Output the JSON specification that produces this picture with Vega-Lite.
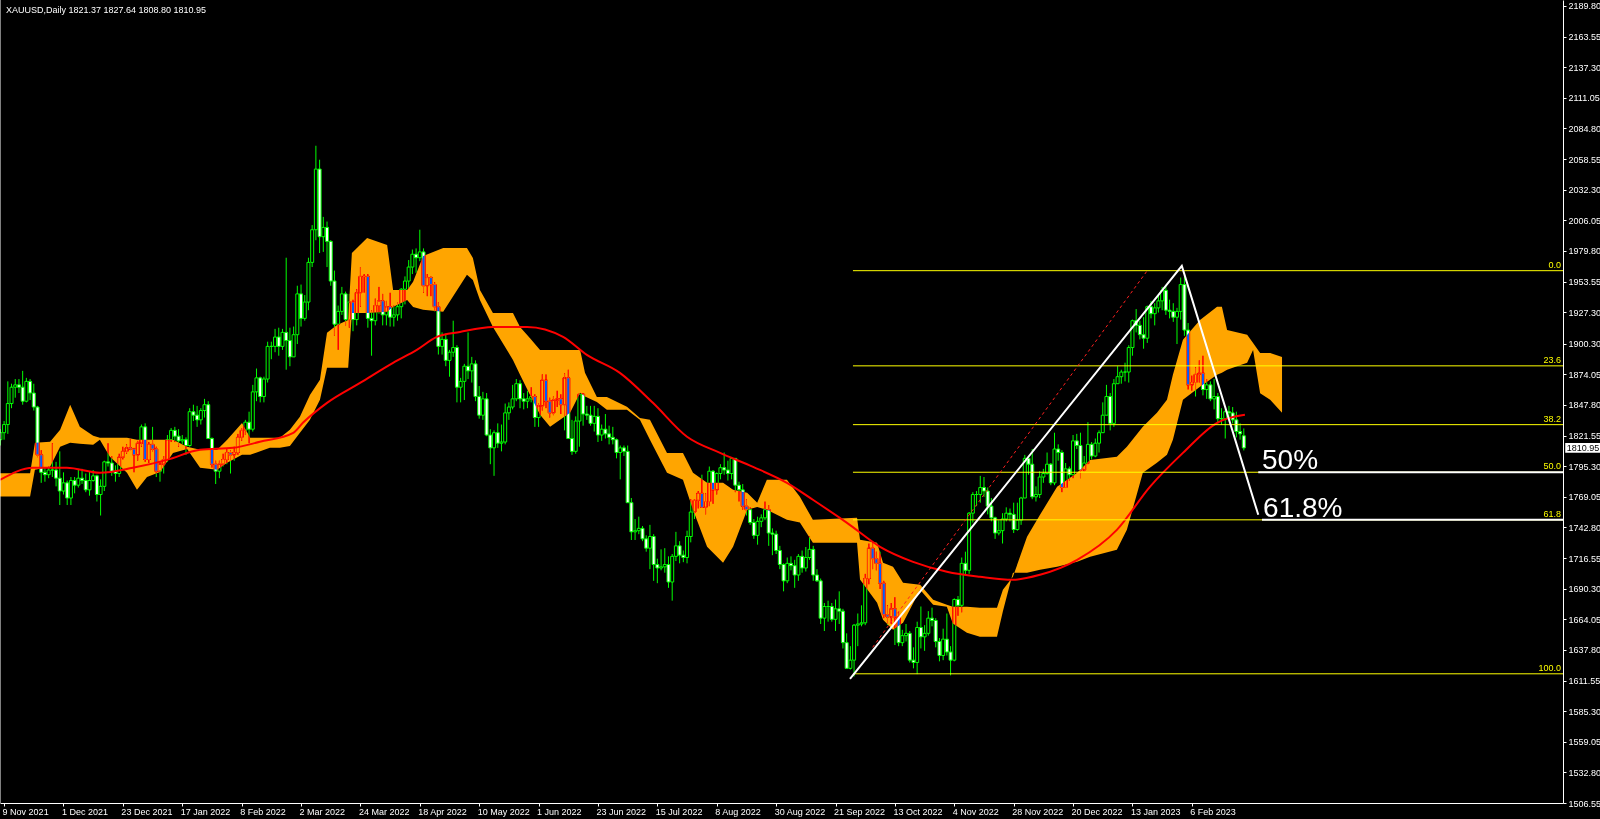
{
"$schema":"https://vega.github.io/schema/vega-lite/v6.json",
"width":1563,"height":803,
"autosize":{"type":"none"},
"padding":{"left":0,"top":0,"right":37,"bottom":16},
"background":"#000000",
"config":{"view":{"stroke":null},"font":"Liberation Sans"},
"datasets":{
"candles":[
{"i":-1,"o":1818,"h":1827,"l":1813,"c":1824},{"i":0,"o":1824,"h":1834,"l":1818,"c":1831},{"i":1,"o":1831,"h":1868,"l":1823,"c":1849},{"i":2,"o":1849,"h":1866,"l":1845,"c":1863},{"i":3,"o":1863,"h":1870,"l":1854,"c":1865},{"i":4,"o":1865,"h":1870,"l":1858,"c":1863},{"i":5,"o":1863,"h":1877,"l":1848,"c":1851},{"i":6,"o":1851,"h":1871,"l":1850,"c":1868},{"i":7,"o":1868,"h":1870,"l":1852,"c":1858},{"i":8,"o":1858,"h":1866,"l":1843,"c":1846},
{"i":9,"o":1846,"h":1847,"l":1803,"c":1805},{"i":10,"o":1805,"h":1809,"l":1781,"c":1790},{"i":11,"o":1790,"h":1794,"l":1782,"c":1788},{"i":12,"o":1788,"h":1795,"l":1785,"c":1792},{"i":13,"o":1792,"h":1815,"l":1786,"c":1792},{"i":14,"o":1792,"h":1799,"l":1778,"c":1785},{"i":15,"o":1785,"h":1808,"l":1762,"c":1774},{"i":16,"o":1774,"h":1790,"l":1771,"c":1781},{"i":17,"o":1781,"h":1783,"l":1762,"c":1768},{"i":18,"o":1768,"h":1786,"l":1762,"c":1783},
{"i":19,"o":1783,"h":1786,"l":1772,"c":1779},{"i":20,"o":1779,"h":1793,"l":1777,"c":1785},{"i":21,"o":1785,"h":1793,"l":1780,"c":1783},{"i":22,"o":1783,"h":1789,"l":1773,"c":1775},{"i":23,"o":1775,"h":1791,"l":1770,"c":1783},{"i":24,"o":1783,"h":1792,"l":1782,"c":1787},{"i":25,"o":1787,"h":1788,"l":1765,"c":1771},{"i":26,"o":1771,"h":1784,"l":1753,"c":1778},{"i":27,"o":1778,"h":1800,"l":1774,"c":1799},{"i":28,"o":1799,"h":1815,"l":1795,"c":1798},
{"i":29,"o":1798,"h":1804,"l":1787,"c":1791},{"i":30,"o":1791,"h":1796,"l":1782,"c":1789},{"i":31,"o":1789,"h":1806,"l":1786,"c":1803},{"i":32,"o":1803,"h":1812,"l":1801,"c":1808},{"i":33,"o":1808,"h":1814,"l":1806,"c":1811},{"i":34,"o":1811,"h":1819,"l":1809,"c":1810},{"i":35,"o":1810,"h":1811,"l":1790,"c":1805},{"i":36,"o":1805,"h":1817,"l":1800,"c":1815},{"i":37,"o":1815,"h":1831,"l":1812,"c":1829},{"i":38,"o":1829,"h":1832,"l":1799,"c":1801},
{"i":39,"o":1801,"h":1816,"l":1798,"c":1814},{"i":40,"o":1814,"h":1829,"l":1808,"c":1810},{"i":41,"o":1810,"h":1812,"l":1786,"c":1791},{"i":42,"o":1791,"h":1799,"l":1782,"c":1797},{"i":43,"o":1797,"h":1804,"l":1789,"c":1801},{"i":44,"o":1801,"h":1822,"l":1799,"c":1818},{"i":45,"o":1818,"h":1828,"l":1816,"c":1826},{"i":46,"o":1826,"h":1829,"l":1816,"c":1821},{"i":47,"o":1821,"h":1827,"l":1812,"c":1817},{"i":48,"o":1817,"h":1822,"l":1814,"c":1818},
{"i":49,"o":1818,"h":1820,"l":1805,"c":1813},{"i":50,"o":1813,"h":1845,"l":1812,"c":1842},{"i":51,"o":1842,"h":1848,"l":1834,"c":1839},{"i":52,"o":1839,"h":1847,"l":1829,"c":1835},{"i":53,"o":1835,"h":1845,"l":1831,"c":1843},{"i":54,"o":1843,"h":1853,"l":1837,"c":1848},{"i":55,"o":1848,"h":1851,"l":1819,"c":1819},{"i":56,"o":1819,"h":1820,"l":1794,"c":1797},{"i":57,"o":1797,"h":1800,"l":1780,"c":1791},{"i":58,"o":1791,"h":1800,"l":1785,"c":1797},
{"i":59,"o":1797,"h":1806,"l":1795,"c":1801},{"i":60,"o":1801,"h":1810,"l":1797,"c":1807},{"i":61,"o":1807,"h":1809,"l":1789,"c":1805},{"i":62,"o":1805,"h":1812,"l":1800,"c":1807},{"i":63,"o":1807,"h":1823,"l":1805,"c":1820},{"i":64,"o":1820,"h":1828,"l":1817,"c":1826},{"i":65,"o":1826,"h":1835,"l":1822,"c":1833},{"i":66,"o":1833,"h":1842,"l":1815,"c":1827},{"i":67,"o":1827,"h":1865,"l":1825,"c":1859},{"i":68,"o":1859,"h":1879,"l":1851,"c":1871},
{"i":69,"o":1871,"h":1872,"l":1850,"c":1855},{"i":70,"o":1855,"h":1872,"l":1850,"c":1870},{"i":71,"o":1870,"h":1902,"l":1867,"c":1898},{"i":72,"o":1898,"h":1902,"l":1887,"c":1898},{"i":73,"o":1898,"h":1913,"l":1893,"c":1906},{"i":74,"o":1906,"h":1914,"l":1890,"c":1898},{"i":75,"o":1898,"h":1913,"l":1895,"c":1910},{"i":76,"o":1910,"h":1974,"l":1878,"c":1903},{"i":77,"o":1903,"h":1914,"l":1881,"c":1889},{"i":78,"o":1889,"h":1915,"l":1889,"c":1908},
{"i":79,"o":1908,"h":1950,"l":1900,"c":1943},{"i":80,"o":1943,"h":1951,"l":1915,"c":1922},{"i":81,"o":1922,"h":1942,"l":1920,"c":1936},{"i":82,"o":1936,"h":1974,"l":1929,"c":1970},{"i":83,"o":1970,"h":2002,"l":1966,"c":1998},{"i":84,"o":1998,"h":2070,"l":1989,"c":2050},{"i":85,"o":2050,"h":2058,"l":1978,"c":1992},{"i":86,"o":1992,"h":2009,"l":1979,"c":2000},{"i":87,"o":2000,"h":2005,"l":1966,"c":1988},{"i":88,"o":1988,"h":1989,"l":1950,"c":1954},
{"i":89,"o":1954,"h":1963,"l":1907,"c":1917},{"i":90,"o":1917,"h":1933,"l":1895,"c":1928},{"i":91,"o":1928,"h":1949,"l":1925,"c":1943},{"i":92,"o":1943,"h":1945,"l":1916,"c":1921},{"i":93,"o":1921,"h":1943,"l":1914,"c":1936},{"i":94,"o":1936,"h":1938,"l":1911,"c":1921},{"i":95,"o":1921,"h":1947,"l":1916,"c":1944},{"i":96,"o":1944,"h":1966,"l":1932,"c":1958},{"i":97,"o":1958,"h":1960,"l":1944,"c":1958},{"i":98,"o":1958,"h":1960,"l":1914,"c":1922},
{"i":99,"o":1922,"h":1929,"l":1890,"c":1920},{"i":100,"o":1920,"h":1939,"l":1916,"c":1933},{"i":101,"o":1933,"h":1949,"l":1926,"c":1937},{"i":102,"o":1937,"h":1943,"l":1916,"c":1925},{"i":103,"o":1925,"h":1937,"l":1916,"c":1932},{"i":104,"o":1932,"h":1944,"l":1915,"c":1923},{"i":105,"o":1923,"h":1933,"l":1915,"c":1925},{"i":106,"o":1925,"h":1936,"l":1920,"c":1932},{"i":107,"o":1932,"h":1948,"l":1922,"c":1947},{"i":108,"o":1947,"h":1958,"l":1934,"c":1954},
{"i":109,"o":1954,"h":1972,"l":1948,"c":1966},{"i":110,"o":1966,"h":1981,"l":1960,"c":1977},{"i":111,"o":1977,"h":1982,"l":1961,"c":1974},{"i":112,"o":1974,"h":1998,"l":1971,"c":1979},{"i":113,"o":1979,"h":1982,"l":1944,"c":1950},{"i":114,"o":1950,"h":1960,"l":1941,"c":1957},{"i":115,"o":1957,"h":1958,"l":1941,"c":1951},{"i":116,"o":1951,"h":1953,"l":1928,"c":1932},{"i":117,"o":1932,"h":1936,"l":1891,"c":1898},{"i":118,"o":1898,"h":1910,"l":1891,"c":1904},
{"i":119,"o":1904,"h":1909,"l":1881,"c":1886},{"i":120,"o":1886,"h":1895,"l":1872,"c":1893},{"i":121,"o":1893,"h":1920,"l":1889,"c":1897},{"i":122,"o":1897,"h":1899,"l":1850,"c":1863},{"i":123,"o":1863,"h":1871,"l":1850,"c":1868},{"i":124,"o":1868,"h":1883,"l":1852,"c":1881},{"i":125,"o":1881,"h":1910,"l":1870,"c":1877},{"i":126,"o":1877,"h":1889,"l":1867,"c":1883},{"i":127,"o":1883,"h":1886,"l":1851,"c":1855},{"i":128,"o":1855,"h":1864,"l":1836,"c":1839},
{"i":129,"o":1839,"h":1859,"l":1835,"c":1853},{"i":130,"o":1853,"h":1858,"l":1821,"c":1822},{"i":131,"o":1822,"h":1827,"l":1797,"c":1811},{"i":132,"o":1811,"h":1826,"l":1787,"c":1824},{"i":133,"o":1824,"h":1832,"l":1811,"c":1815},{"i":134,"o":1815,"h":1831,"l":1808,"c":1816},{"i":135,"o":1816,"h":1849,"l":1814,"c":1841},{"i":136,"o":1841,"h":1850,"l":1835,"c":1846},{"i":137,"o":1846,"h":1865,"l":1844,"c":1853},{"i":138,"o":1853,"h":1870,"l":1851,"c":1866},
{"i":139,"o":1866,"h":1869,"l":1845,"c":1853},{"i":140,"o":1853,"h":1858,"l":1844,"c":1851},{"i":141,"o":1851,"h":1860,"l":1845,"c":1853},{"i":142,"o":1853,"h":1863,"l":1850,"c":1855},{"i":143,"o":1855,"h":1857,"l":1829,"c":1837},{"i":144,"o":1837,"h":1849,"l":1829,"c":1847},{"i":145,"o":1847,"h":1874,"l":1843,"c":1869},{"i":146,"o":1869,"h":1874,"l":1845,"c":1851},{"i":147,"o":1851,"h":1854,"l":1837,"c":1841},{"i":148,"o":1841,"h":1855,"l":1839,"c":1852},
{"i":149,"o":1852,"h":1860,"l":1846,"c":1853},{"i":150,"o":1853,"h":1857,"l":1840,"c":1848},{"i":151,"o":1848,"h":1875,"l":1826,"c":1871},{"i":152,"o":1871,"h":1878,"l":1819,"c":1819},{"i":153,"o":1819,"h":1835,"l":1805,"c":1808},{"i":154,"o":1808,"h":1838,"l":1806,"c":1834},{"i":155,"o":1834,"h":1857,"l":1812,"c":1857},{"i":156,"o":1857,"h":1858,"l":1830,"c":1840},{"i":157,"o":1840,"h":1847,"l":1835,"c":1839},{"i":158,"o":1839,"h":1847,"l":1830,"c":1832},
{"i":159,"o":1832,"h":1847,"l":1825,"c":1838},{"i":160,"o":1838,"h":1845,"l":1816,"c":1822},{"i":161,"o":1822,"h":1831,"l":1817,"c":1827},{"i":162,"o":1827,"h":1840,"l":1819,"c":1823},{"i":163,"o":1823,"h":1830,"l":1814,"c":1820},{"i":164,"o":1820,"h":1829,"l":1814,"c":1818},{"i":165,"o":1818,"h":1819,"l":1802,"c":1807},{"i":166,"o":1807,"h":1813,"l":1784,"c":1811},{"i":167,"o":1811,"h":1813,"l":1804,"c":1808},{"i":168,"o":1808,"h":1813,"l":1764,"c":1764},
{"i":169,"o":1764,"h":1768,"l":1732,"c":1739},{"i":170,"o":1739,"h":1750,"l":1732,"c":1740},{"i":171,"o":1740,"h":1752,"l":1737,"c":1742},{"i":172,"o":1742,"h":1744,"l":1731,"c":1733},{"i":173,"o":1733,"h":1736,"l":1722,"c":1725},{"i":174,"o":1725,"h":1745,"l":1707,"c":1735},{"i":175,"o":1735,"h":1737,"l":1697,"c":1711},{"i":176,"o":1711,"h":1716,"l":1695,"c":1708},{"i":177,"o":1708,"h":1724,"l":1706,"c":1709},{"i":178,"o":1709,"h":1725,"l":1704,"c":1711},
{"i":179,"o":1711,"h":1718,"l":1691,"c":1696},{"i":180,"o":1696,"h":1720,"l":1680,"c":1718},{"i":181,"o":1718,"h":1739,"l":1714,"c":1727},{"i":182,"o":1727,"h":1731,"l":1712,"c":1719},{"i":183,"o":1719,"h":1723,"l":1713,"c":1717},{"i":184,"o":1717,"h":1740,"l":1712,"c":1735},{"i":185,"o":1735,"h":1767,"l":1730,"c":1756},{"i":186,"o":1756,"h":1767,"l":1750,"c":1766},{"i":187,"o":1766,"h":1774,"l":1759,"c":1772},{"i":188,"o":1772,"h":1788,"l":1760,"c":1760},
{"i":189,"o":1760,"h":1772,"l":1754,"c":1765},{"i":190,"o":1765,"h":1795,"l":1761,"c":1791},{"i":191,"o":1791,"h":1792,"l":1763,"c":1775},{"i":192,"o":1775,"h":1790,"l":1771,"c":1789},{"i":193,"o":1789,"h":1797,"l":1784,"c":1794},{"i":194,"o":1794,"h":1807,"l":1788,"c":1792},{"i":195,"o":1792,"h":1800,"l":1783,"c":1789},{"i":196,"o":1789,"h":1802,"l":1784,"c":1802},{"i":197,"o":1802,"h":1802,"l":1773,"c":1779},{"i":198,"o":1779,"h":1782,"l":1765,"c":1775},
{"i":199,"o":1775,"h":1780,"l":1758,"c":1761},{"i":200,"o":1761,"h":1767,"l":1753,"c":1758},{"i":201,"o":1758,"h":1760,"l":1745,"c":1747},{"i":202,"o":1747,"h":1750,"l":1733,"c":1736},{"i":203,"o":1736,"h":1752,"l":1728,"c":1748},{"i":204,"o":1748,"h":1754,"l":1743,"c":1751},{"i":205,"o":1751,"h":1765,"l":1749,"c":1758},{"i":206,"o":1758,"h":1762,"l":1727,"c":1738},{"i":207,"o":1738,"h":1742,"l":1719,"c":1737},{"i":208,"o":1737,"h":1740,"l":1720,"c":1723},
{"i":209,"o":1723,"h":1727,"l":1707,"c":1711},{"i":210,"o":1711,"h":1712,"l":1688,"c":1697},{"i":211,"o":1697,"h":1717,"l":1695,"c":1712},{"i":212,"o":1712,"h":1718,"l":1706,"c":1710},{"i":213,"o":1710,"h":1715,"l":1691,"c":1702},{"i":214,"o":1702,"h":1720,"l":1697,"c":1718},{"i":215,"o":1718,"h":1723,"l":1704,"c":1708},{"i":216,"o":1708,"h":1726,"l":1705,"c":1717},{"i":217,"o":1717,"h":1735,"l":1715,"c":1724},{"i":218,"o":1724,"h":1727,"l":1697,"c":1702},
{"i":219,"o":1702,"h":1707,"l":1696,"c":1697},{"i":220,"o":1697,"h":1699,"l":1660,"c":1665},{"i":221,"o":1665,"h":1678,"l":1654,"c":1675},{"i":222,"o":1675,"h":1680,"l":1662,"c":1675},{"i":223,"o":1675,"h":1678,"l":1662,"c":1664},{"i":224,"o":1664,"h":1681,"l":1654,"c":1673},{"i":225,"o":1673,"h":1688,"l":1660,"c":1671},{"i":226,"o":1671,"h":1673,"l":1639,"c":1644},{"i":227,"o":1644,"h":1652,"l":1622,"c":1622},{"i":228,"o":1622,"h":1641,"l":1621,"c":1629},
{"i":229,"o":1629,"h":1660,"l":1615,"c":1659},{"i":230,"o":1659,"h":1669,"l":1641,"c":1660},{"i":231,"o":1660,"h":1676,"l":1658,"c":1661},{"i":232,"o":1661,"h":1703,"l":1659,"c":1699},{"i":233,"o":1699,"h":1729,"l":1694,"c":1725},{"i":234,"o":1725,"h":1730,"l":1707,"c":1716},{"i":235,"o":1716,"h":1722,"l":1706,"c":1712},{"i":236,"o":1712,"h":1722,"l":1690,"c":1695},{"i":237,"o":1695,"h":1697,"l":1665,"c":1668},{"i":238,"o":1668,"h":1676,"l":1659,"c":1666},
{"i":239,"o":1666,"h":1678,"l":1660,"c":1673},{"i":240,"o":1673,"h":1683,"l":1642,"c":1666},{"i":241,"o":1666,"h":1670,"l":1641,"c":1644},{"i":242,"o":1644,"h":1655,"l":1641,"c":1650},{"i":243,"o":1650,"h":1660,"l":1645,"c":1652},{"i":244,"o":1652,"h":1654,"l":1627,"c":1629},{"i":245,"o":1629,"h":1640,"l":1622,"c":1627},{"i":246,"o":1627,"h":1662,"l":1617,"c":1657},{"i":247,"o":1657,"h":1675,"l":1639,"c":1649},{"i":248,"o":1649,"h":1659,"l":1637,"c":1652},
{"i":249,"o":1652,"h":1671,"l":1650,"c":1665},{"i":250,"o":1665,"h":1674,"l":1658,"c":1663},{"i":251,"o":1663,"h":1665,"l":1640,"c":1645},{"i":252,"o":1645,"h":1648,"l":1628,"c":1633},{"i":253,"o":1633,"h":1656,"l":1629,"c":1647},{"i":254,"o":1647,"h":1669,"l":1633,"c":1636},{"i":255,"o":1636,"h":1641,"l":1616,"c":1629},{"i":256,"o":1629,"h":1682,"l":1628,"c":1681},{"i":257,"o":1681,"h":1684,"l":1667,"c":1676},{"i":258,"o":1676,"h":1717,"l":1670,"c":1712},
{"i":259,"o":1712,"h":1722,"l":1702,"c":1706},{"i":260,"o":1706,"h":1756,"l":1703,"c":1755},{"i":261,"o":1755,"h":1773,"l":1747,"c":1771},{"i":262,"o":1771,"h":1774,"l":1761,"c":1771},{"i":263,"o":1771,"h":1787,"l":1764,"c":1777},{"i":264,"o":1777,"h":1786,"l":1769,"c":1774},{"i":265,"o":1774,"h":1777,"l":1754,"c":1761},{"i":266,"o":1761,"h":1768,"l":1748,"c":1751},{"i":267,"o":1751,"h":1752,"l":1733,"c":1738},{"i":268,"o":1738,"h":1749,"l":1736,"c":1740},
{"i":269,"o":1740,"h":1755,"l":1729,"c":1750},{"i":270,"o":1750,"h":1760,"l":1748,"c":1755},{"i":271,"o":1755,"h":1759,"l":1748,"c":1754},{"i":272,"o":1754,"h":1764,"l":1738,"c":1741},{"i":273,"o":1741,"h":1764,"l":1740,"c":1749},{"i":274,"o":1749,"h":1769,"l":1745,"c":1768},{"i":275,"o":1768,"h":1805,"l":1768,"c":1802},{"i":276,"o":1802,"h":1804,"l":1788,"c":1797},{"i":277,"o":1797,"h":1810,"l":1767,"c":1769},{"i":278,"o":1769,"h":1778,"l":1765,"c":1771},
{"i":279,"o":1771,"h":1791,"l":1768,"c":1786},{"i":280,"o":1786,"h":1793,"l":1781,"c":1789},{"i":281,"o":1789,"h":1807,"l":1788,"c":1797},{"i":282,"o":1797,"h":1798,"l":1779,"c":1781},{"i":283,"o":1781,"h":1824,"l":1779,"c":1810},{"i":284,"o":1810,"h":1814,"l":1800,"c":1807},{"i":285,"o":1807,"h":1809,"l":1773,"c":1777},{"i":286,"o":1777,"h":1798,"l":1777,"c":1793},{"i":287,"o":1793,"h":1795,"l":1783,"c":1788},{"i":288,"o":1788,"h":1822,"l":1785,"c":1817},
{"i":289,"o":1817,"h":1823,"l":1810,"c":1813},{"i":290,"o":1813,"h":1824,"l":1785,"c":1792},{"i":291,"o":1792,"h":1804,"l":1791,"c":1798},{"i":292,"o":1798,"h":1833,"l":1797,"c":1814},{"i":293,"o":1814,"h":1816,"l":1801,"c":1804},{"i":294,"o":1804,"h":1819,"l":1803,"c":1815},{"i":295,"o":1815,"h":1826,"l":1807,"c":1824},{"i":296,"o":1824,"h":1850,"l":1824,"c":1839},{"i":297,"o":1839,"h":1865,"l":1839,"c":1855},{"i":298,"o":1855,"h":1858,"l":1826,"c":1832},
{"i":299,"o":1832,"h":1870,"l":1829,"c":1866},{"i":300,"o":1866,"h":1881,"l":1866,"c":1872},{"i":301,"o":1872,"h":1878,"l":1866,"c":1876},{"i":302,"o":1876,"h":1884,"l":1868,"c":1876},{"i":303,"o":1876,"h":1899,"l":1867,"c":1897},{"i":304,"o":1897,"h":1921,"l":1890,"c":1920},{"i":305,"o":1920,"h":1930,"l":1910,"c":1916},{"i":306,"o":1916,"h":1920,"l":1904,"c":1908},{"i":307,"o":1908,"h":1923,"l":1896,"c":1905},{"i":308,"o":1905,"h":1933,"l":1901,"c":1932},
{"i":309,"o":1932,"h":1937,"l":1922,"c":1926},{"i":310,"o":1926,"h":1935,"l":1916,"c":1931},{"i":311,"o":1931,"h":1942,"l":1927,"c":1937},{"i":312,"o":1937,"h":1949,"l":1929,"c":1946},{"i":313,"o":1946,"h":1950,"l":1925,"c":1929},{"i":314,"o":1929,"h":1938,"l":1922,"c":1928},{"i":315,"o":1928,"h":1935,"l":1919,"c":1923},{"i":316,"o":1923,"h":1931,"l":1900,"c":1928},{"i":317,"o":1928,"h":1957,"l":1921,"c":1951},{"i":318,"o":1951,"h":1959,"l":1907,"c":1912},
{"i":319,"o":1912,"h":1918,"l":1861,"c":1865},{"i":320,"o":1865,"h":1873,"l":1860,"c":1867},{"i":321,"o":1867,"h":1880,"l":1855,"c":1874},{"i":322,"o":1874,"h":1886,"l":1867,"c":1875},{"i":323,"o":1875,"h":1890,"l":1856,"c":1861},{"i":324,"o":1861,"h":1870,"l":1853,"c":1865},{"i":325,"o":1865,"h":1868,"l":1851,"c":1853},{"i":326,"o":1853,"h":1870,"l":1844,"c":1855},{"i":327,"o":1855,"h":1858,"l":1832,"c":1836},{"i":328,"o":1836,"h":1845,"l":1831,"c":1836},
{"i":329,"o":1836,"h":1844,"l":1819,"c":1842},{"i":330,"o":1842,"h":1847,"l":1837,"c":1841},{"i":331,"o":1841,"h":1846,"l":1832,"c":1835},{"i":332,"o":1835,"h":1842,"l":1820,"c":1825},{"i":333,"o":1825,"h":1832,"l":1818,"c":1823},{"i":334,"o":1821.37,"h":1827.64,"l":1808.8,"c":1810.95}
],
"cloud":[
{"i":-1.1,"a":1789.3,"b":1769.3},{"i":7,"a":1789.3,"b":1769.3},{"i":8.3,"a":1815.3,"b":1792.2},{"i":12.4,"a":1816.2,"b":1794.8},{"i":15.1,"a":1826.5,"b":1811.9},{"i":17.8,"a":1847.9,"b":1815.3},{"i":20.4,"a":1829,"b":1814.5},{"i":24,"a":1821.3,"b":1813.6},{"i":25.8,"a":1819.6,"b":1817.9},{"i":28.5,"a":1819.6,"b":1803.3},{"i":33.1,"a":1819.6,"b":1789.6},{"i":35.8,"a":1817.9,"b":1775},{"i":38.5,"a":1817.9,"b":1786.1},{"i":42,"a":1817.9,"b":1790.4},{"i":45.5,"a":1817.9,"b":1806.7},{"i":49.3,"a":1812,"b":1810},{"i":52.8,"a":1809.3,"b":1793.9},{"i":57.4,"a":1809.3,"b":1792.2},{"i":60.1,"a":1817.9,"b":1798.2},{"i":64.1,"a":1832.4,"b":1805},{"i":66.3,"a":1819.6,"b":1805},{"i":71.6,"a":1819.6,"b":1811},{"i":74.3,"a":1819.6,"b":1811},{"i":77,"a":1826.5,"b":1812.7},{"i":79.7,"a":1837.6,"b":1823.9},{"i":82.4,"a":1856.4,"b":1835},{"i":85.1,"a":1869.3,"b":1852.2},{"i":87,"a":1909.6,"b":1879.6},{"i":89.7,"a":1916.4,"b":1879.6},{"i":92.7,"a":1920.7,"b":1879.6},{"i":93.7,"a":1978.1,"b":1926.7},{"i":97.8,"a":1991,"b":1926.7},{"i":103.2,"a":1985,"b":1927.6},{"i":104.8,"a":1946.4,"b":1931.8},{"i":108.6,"a":1946.4,"b":1937.8},{"i":110.2,"a":1953.3,"b":1931.8},{"i":112.9,"a":1975.5,"b":1929.3},{"i":118.3,"a":1982.4,"b":1927.6},{"i":124.7,"a":1982.4,"b":1959.3},{"i":126.3,"a":1973.8,"b":1955},{"i":128.2,"a":1946.4,"b":1937.8},{"i":131.7,"a":1926.7,"b":1914.7},{"i":137.1,"a":1926.7,"b":1886.4},{"i":139,"a":1914.7,"b":1873.6},{"i":141.7,"a":1905,"b":1856.4},{"i":144.4,"a":1894.9,"b":1839.3},{"i":147.1,"a":1894.9,"b":1829},{"i":152.5,"a":1894.9,"b":1841},{"i":155.2,"a":1894.9,"b":1858.2},{"i":156.5,"a":1875.3,"b":1855},{"i":159.7,"a":1854.7,"b":1850.4},{"i":162.4,"a":1854.7,"b":1843.6},{"i":167.8,"a":1846.2,"b":1843.6},{"i":171.3,"a":1836.7,"b":1835},{"i":174,"a":1835,"b":1817.9},{"i":178.6,"a":1806.7,"b":1789.6},{"i":182.9,"a":1806.7,"b":1783.6},{"i":185.6,"a":1789.6,"b":1757.9},{"i":189.4,"a":1781,"b":1726.2},{"i":193.7,"a":1781,"b":1712.5},{"i":196.4,"a":1775,"b":1726.2},{"i":200.2,"a":1772.5,"b":1757.9},{"i":202.9,"a":1763.9,"b":1760.4},{"i":205.5,"a":1783.6,"b":1757.9},{"i":210.9,"a":1783.6,"b":1749.3},{"i":214.4,"a":1769,"b":1747},{"i":217.9,"a":1749.3,"b":1729.6},{"i":229.8,"a":1751,"b":1729.6},{"i":230.6,"a":1732.2,"b":1698.1},{"i":235.2,"a":1729.6,"b":1678.2},{"i":236.8,"a":1712.5,"b":1663.6},{"i":239.5,"a":1709,"b":1655.1},{"i":242.2,"a":1695.3,"b":1661.1},{"i":246.8,"a":1693.6,"b":1689.3},{"i":250.3,"a":1680.7,"b":1676.5},{"i":254,"a":1676.5,"b":1674.8},{"i":255.6,"a":1674.8,"b":1660.5},{"i":259.4,"a":1674.8,"b":1652.4},{"i":262.9,"a":1673.9,"b":1649.1},{"i":267.5,"a":1673.9,"b":1649.1},{"i":269.1,"a":1689.3,"b":1671},{"i":271.8,"a":1700.5,"b":1703.9},{"i":275.6,"a":1734.7,"b":1703.9},{"i":279.1,"a":1753.6,"b":1706.5},{"i":283.7,"a":1777.6,"b":1709},{"i":289.1,"a":1789.6,"b":1713.3},{"i":292.6,"a":1800.6,"b":1717.6},{"i":299.8,"a":1803.3,"b":1723.6},{"i":302.5,"a":1811.9,"b":1740.7},{"i":306.8,"a":1829,"b":1789.6},{"i":310.6,"a":1841,"b":1798.2},{"i":313.3,"a":1852.2,"b":1805},{"i":314.9,"a":1873.6,"b":1817.9},{"i":317.6,"a":1903.6,"b":1852.2},{"i":322.2,"a":1920.7,"b":1863.3},{"i":326.8,"a":1931.9,"b":1873.6},{"i":328.1,"a":1931.9,"b":1875.3},{"i":329.5,"a":1912.1,"b":1877.9},{"i":334.9,"a":1907.9,"b":1884},{"i":336.5,"a":1900.9,"b":1895},{"i":338.4,"a":1892.4,"b":1857.9},{"i":341.1,"a":1892.4,"b":1852.2},{"i":344.3,"a":1889,"b":1841}
],
"ma":[
{"i":-1.1,"m":1783.6},{"i":7.8,"m":1793.9},{"i":16.9,"m":1793.9},{"i":25.8,"m":1789.6},{"i":34.7,"m":1793.9},{"i":43.9,"m":1800.7},{"i":52.8,"m":1809.3},{"i":61.7,"m":1811},{"i":68.9,"m":1816.2},{"i":77.9,"m":1823.9},{"i":80.5,"m":1832.5},{"i":87,"m":1849.6},{"i":95.9,"m":1866.7},{"i":104.8,"m":1883.9},{"i":111.2,"m":1895},{"i":116.6,"m":1906.1},{"i":122.8,"m":1910.4},{"i":131.7,"m":1914.7},{"i":140.9,"m":1914.7},{"i":150.6,"m":1906.1},{"i":157,"m":1890.7},{"i":165.9,"m":1875.3},{"i":174.8,"m":1849.6},{"i":184,"m":1820.5},{"i":192.9,"m":1806.7},{"i":201.8,"m":1794.7},{"i":210.9,"m":1781},{"i":217.9,"m":1766.5},{"i":227.1,"m":1746.7},{"i":236,"m":1726.2},{"i":244.9,"m":1713.3},{"i":254,"m":1704.8},{"i":262.9,"m":1700.5},{"i":271.8,"m":1697.9},{"i":279.1,"m":1702.2},{"i":289.1,"m":1715},{"i":299.8,"m":1740.7},{"i":308.7,"m":1777.6},{"i":317.6,"m":1806.7},{"i":326.8,"m":1832.5},{"i":334.3,"m":1839.3}
],
"fib":[
{"lv":"0.0","p":1962.9,"x0":228.7,"x1":420},{"lv":"23.6","p":1881.3,"x0":228.7,"x1":420},{"lv":"38.2","p":1830.9,"x0":228.7,"x1":420},{"lv":"50.0","p":1790.1,"x0":228.7,"x1":420},{"lv":"61.8","p":1749.3,"x0":228.7,"x1":420},{"lv":"100.0","p":1617.3,"x0":228.7,"x1":420}
],
"wl":[{"p":1790.1,"x0":337.9,"x1":420},{"p":1749.3,"x0":338.9,"x1":420}],
"trend":[{"i":227.9,"p":1613},{"i":317.3,"p":1967},{"i":337.9,"p":1753.6}],
"dash":[{"i":234,"p":1640},{"i":307.8,"p":1962.1}],
"notes":[{"t":"50%","i":338.9,"p":1790.1},{"t":"61.8%","i":339.2,"p":1749.3}],
"head":[{"t":"XAUUSD,Daily  1821.37 1827.64 1808.80 1810.95","i":0.5,"p":2186.4}],
"border":[{"i":-1.105,"p0":1506.55,"p1":2194.94}],
"box":[{"i0":420.6,"i1":430,"p0":1806.8,"p1":1815.2,"t":"1810.95","ti":421.0,"tp":1810.95}]
},
"encoding":{
"x":{"field":"i","type":"quantitative","scale":{"domain":[-1.105,420.0],"nice":false,"zero":false,"padding":0},
 "axis":{"values":[0,16,32,48,64,80,96,112,128,144,160,176,192,208,224,240,256,272,288,304,320],"labelExpr":"['9 Nov 2021','1 Dec 2021','23 Dec 2021','17 Jan 2022','8 Feb 2022','2 Mar 2022','24 Mar 2022','18 Apr 2022','10 May 2022','1 Jun 2022','23 Jun 2022','15 Jul 2022','8 Aug 2022','30 Aug 2022','21 Sep 2022','13 Oct 2022','4 Nov 2022','28 Nov 2022','20 Dec 2022','13 Jan 2023','6 Feb 2023'][round(datum.value/16)]","title":null,"grid":false,"orient":"bottom","domainColor":"#ffffff","domainWidth":1,"tickColor":"#ffffff","tickSize":3,"labelColor":"#ffffff","labelFont":"Liberation Sans","labelFontSize":9,"labelAlign":"left","labelBaseline":"top","labelPadding":1,"labelOffset":-2,"labelOverlap":false,"labelBound":false,"labelFlush":false}},
"y":{"field":"p","type":"quantitative","scale":{"domain":[1506.55,2194.94],"nice":false,"zero":false,"padding":0},
 "axis":{"orient":"right","values":[1506.55,1532.8,1559.05,1585.3,1611.55,1637.8,1664.05,1690.3,1716.55,1742.8,1769.05,1795.3,1821.55,1847.8,1874.05,1900.3,1927.3,1953.55,1979.8,2006.05,2032.3,2058.55,2084.8,2111.05,2137.3,2163.55,2189.8],"format":".2f","title":null,"grid":false,"domainColor":"#ffffff","tickColor":"#ffffff","tickSize":3,"labelColor":"#ffffff","labelFont":"Liberation Sans","labelFontSize":9,"labelPadding":2,"labelOverlap":false,"labelBound":false,"labelFlush":false}}
},
"layer":[
{"data":{"name":"candles"},"mark":{"type":"rule","color":"#00ff00","strokeWidth":1},
 "encoding":{"y":{"field":"l","type":"quantitative"},"y2":{"field":"h"}}},
{"data":{"name":"candles"},"mark":{"type":"bar","size":3,"stroke":"#00ff00","strokeWidth":1},
 "encoding":{
  "y":{"field":"o","type":"quantitative"},
  "y2":{"field":"c"},
  "fill":{"condition":{"test":"datum.c < datum.o","value":"#ffffff"},"value":"#000000"}}},
{"data":{"name":"cloud"},"mark":{"type":"area","color":"#ffa500","opacity":1,"blend":"difference","interpolate":"linear"},
 "encoding":{"y":{"field":"a","type":"quantitative"},"y2":{"field":"b"}}},
{"data":{"name":"ma"},"mark":{"type":"line","color":"#ff0000","strokeWidth":2,"interpolate":"monotone"},
 "encoding":{"y":{"field":"m","type":"quantitative"}}},
{"data":{"name":"border"},"mark":{"type":"rule","color":"#ffffff","strokeWidth":1},
 "encoding":{"y":{"field":"p0","type":"quantitative"},"y2":{"field":"p1"}}},
{"data":{"name":"fib"},"mark":{"type":"rule","color":"#ffff00","strokeWidth":1},
 "encoding":{"x":{"field":"x0","type":"quantitative"},"x2":{"field":"x1"}}},
{"data":{"name":"fib"},"mark":{"type":"text","color":"#ffff00","font":"Liberation Sans","fontSize":9,"align":"right","baseline":"bottom","dx":-2,"dy":-1},
 "encoding":{"x":{"field":"x1","type":"quantitative"},"text":{"field":"lv"}}},
{"data":{"name":"wl"},"mark":{"type":"rule","color":"#ffffff","strokeWidth":2},
 "encoding":{"x":{"field":"x0","type":"quantitative"},"x2":{"field":"x1"}}},
{"data":{"name":"dash"},"mark":{"type":"line","color":"#ff2020","strokeWidth":1,"strokeDash":[3,3]},"encoding":{}},
{"data":{"name":"trend"},"mark":{"type":"line","color":"#ffffff","strokeWidth":2},"encoding":{}},
{"data":{"name":"notes"},"mark":{"type":"text","color":"#ffffff","font":"Liberation Sans","fontSize":28,"align":"left","baseline":"alphabetic","dy":-3},
 "encoding":{"text":{"field":"t"}}},
{"data":{"name":"head"},"mark":{"type":"text","color":"#ffffff","font":"Liberation Sans","fontSize":9,"align":"left","baseline":"middle"},
 "encoding":{"text":{"field":"t"}}},
{"data":{"name":"box"},"mark":{"type":"rect","color":"#ffffff"},
 "encoding":{"x":{"field":"i0","type":"quantitative"},"x2":{"field":"i1"},"y":{"field":"p0","type":"quantitative"},"y2":{"field":"p1"}}},
{"data":{"name":"box"},"mark":{"type":"text","color":"#000000","font":"Liberation Sans","fontSize":9,"align":"left","baseline":"middle"},
 "encoding":{"x":{"field":"ti","type":"quantitative"},"y":{"field":"tp","type":"quantitative"},"text":{"field":"t"}}}
]
}
